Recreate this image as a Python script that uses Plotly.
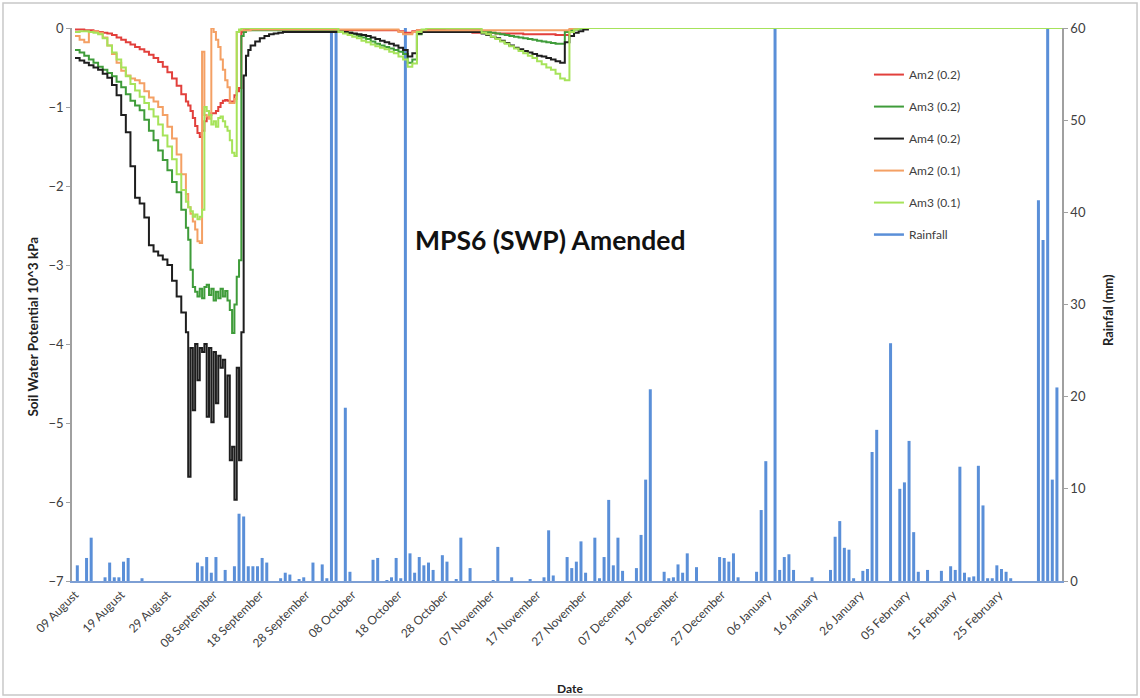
import pandas as pd
import plotly.graph_objects as go

# ---------------- time bases ----------------
START = "2012-08-09"
days_a = pd.date_range(START, periods=24, freq="D")            # 09 Aug .. 01 Sep (daily)
half_b = pd.date_range("2012-09-02", periods=28, freq="12h")   # 02 Sep .. 15 Sep (12-hourly)
days_c = pd.date_range("2012-09-16", periods=83, freq="D")     # 16 Sep .. 07 Dec (daily)
t_end = pd.DatetimeIndex(["2013-03-11"])
t_swp = days_a.append(half_b).append(days_c).append(t_end)

t_rain = pd.date_range(START + " 12:00", periods=215, freq="D")   # daily totals, centred on each day

tick_dates = pd.date_range(START, periods=21, freq="10D")
tick_labels = [d.strftime("%d %B") for d in tick_dates]

# ---------------- soil water potential (10^3 kPa) ----------------
am2_02 = [
    -0.02, -0.02, -0.03, -0.03, -0.04, -0.05, -0.06, -0.07, -0.09, -0.12, -0.15, -0.18,
    -0.21, -0.24, -0.27, -0.30, -0.34, -0.38, -0.43, -0.49, -0.56, -0.64, -0.73, -0.84,
    -0.93, -0.98, -1.05, -1.14, -1.24, -1.33, -1.38, -1.30, -1.18, -1.13, -1.10, -1.08,
    -1.08, -1.05, -1.00, -0.95, -0.92, -0.91, -0.92, -0.95, -0.93, -0.85, -0.80, -0.76,
    -0.05, -0.03, -0.02, -0.02,
    -0.02, -0.02, -0.02, -0.02, -0.02, -0.02, -0.02, -0.02, -0.02, -0.02, -0.02, -0.02,
    -0.02, -0.02, -0.02, -0.02, -0.02, -0.02,
    -0.03, -0.03, -0.03, -0.03, -0.03, -0.03, -0.03, -0.03, -0.03, -0.03, -0.03, -0.03,
    -0.03, -0.03,
    -0.04, -0.06, -0.06, -0.04,
    -0.03, -0.03, -0.03, -0.03, -0.03, -0.03,
    -0.04, -0.04, -0.05, -0.05, -0.05, -0.05, -0.06, -0.06, -0.06, -0.06, -0.06, -0.07,
    -0.07, -0.07, -0.07, -0.07, -0.07, -0.08, -0.08, -0.08, -0.08, -0.08, -0.08, -0.08,
    -0.09, -0.09, -0.09,
    -0.03, -0.01, 0, 0, 0, 0, 0, 0, 0, 0, 0, 0, 0, 0,
    0,
]

am3_02 = [
    -0.28, -0.31, -0.35, -0.40, -0.44, -0.49, -0.53, -0.57, -0.61, -0.68, -0.75, -0.84,
    -0.92, -0.98, -1.04, -1.16, -1.30, -1.42, -1.55, -1.67, -1.80, -1.95, -2.08, -2.30,
    -2.53, -2.68, -3.06, -3.28, -3.34, -3.40, -3.30, -3.42, -3.28, -3.25, -3.38, -3.30,
    -3.45, -3.34, -3.42, -3.30, -3.40, -3.33, -3.45, -3.57, -3.86, -3.50, -3.15, -2.94,
    -0.10, -0.05, -0.03, -0.03,
    -0.03, -0.03, -0.03, -0.03, -0.03, -0.03, -0.03, -0.03, -0.03, -0.03, -0.03, -0.03,
    -0.03, -0.03, -0.03, -0.03, -0.03, -0.03, -0.03,
    -0.04, -0.05, -0.06, -0.08, -0.10, -0.12, -0.14, -0.17, -0.20, -0.22, -0.24, -0.26,
    -0.28, -0.30, -0.33, -0.44, -0.40, -0.08, -0.04,
    -0.03, -0.03, -0.03, -0.03, -0.03, -0.03, -0.03, -0.03, -0.03, -0.03, -0.03, -0.03,
    -0.04, -0.05, -0.06, -0.07, -0.08, -0.09, -0.10, -0.11, -0.12, -0.13, -0.14, -0.15,
    -0.16, -0.17, -0.18, -0.19, -0.20, -0.20, -0.05, -0.03,
    -0.02, -0.01, 0, 0, 0, 0, 0, 0, 0, 0, 0, 0, 0,
    0,
]

am4_02 = [
    -0.38, -0.41, -0.44, -0.47, -0.50, -0.53, -0.58, -0.63, -0.72, -0.85, -1.10, -1.32,
    -1.75, -2.15, -2.22, -2.40, -2.75, -2.83, -2.88, -2.93, -3.00, -3.20, -3.40, -3.60,
    -3.85, -5.68, -4.05, -4.84, -4.00, -4.46, -4.05, -4.10, -4.00, -4.92, -4.05, -4.99,
    -4.10, -4.75, -4.15, -4.30, -4.20, -4.92, -4.40, -5.47, -5.30, -5.97, -4.30, -5.47,
    -3.85, -0.60, -0.35, -0.28,
    -0.22, -0.17, -0.13, -0.10, -0.08, -0.07, -0.06,
    -0.05, -0.05, -0.05, -0.05, -0.05, -0.05, -0.05, -0.05, -0.05, -0.05, -0.05, -0.05,
    -0.05, -0.05, -0.06, -0.07, -0.08, -0.09, -0.10, -0.12, -0.14, -0.16, -0.18, -0.20,
    -0.22, -0.25, -0.28, -0.36, -0.32, -0.07, -0.05,
    -0.05, -0.05, -0.05, -0.05, -0.05, -0.05, -0.05, -0.05, -0.05, -0.05, -0.05, -0.05,
    -0.07, -0.09, -0.11, -0.13, -0.16, -0.19, -0.22, -0.25, -0.27, -0.29, -0.31, -0.33,
    -0.35, -0.36, -0.38, -0.40, -0.42, -0.44, -0.18, -0.10, -0.06, -0.04, -0.02,
    0, 0, 0, 0, 0, 0, 0, 0, 0, 0,
    0,
]

am2_01 = [
    -0.10, -0.15, -0.18, -0.05, -0.04, -0.06, -0.12, -0.22, -0.33, -0.44, -0.54, -0.60,
    -0.64, -0.66, -0.70, -0.80, -0.88, -0.93, -1.00, -1.10, -1.25, -1.40, -1.60, -1.85,
    -2.10, -2.27, -2.35, -2.45, -2.55, -2.70, -2.72, -0.30, -1.10, -1.12, -1.15, 0.00,
    -0.05, -0.15, -0.24, -0.40, -0.53, -0.66, -0.75, -0.95, -0.95, -0.90, -0.05, -0.03,
    -0.03, -0.03, -0.03, -0.03,
    -0.02, -0.02, -0.02, -0.02, -0.02, -0.02, -0.02, -0.02, -0.02, -0.02, -0.02, -0.02,
    -0.02, -0.02, -0.02, -0.02, -0.02, -0.02, -0.02, -0.02, -0.02, -0.02, -0.02, -0.02,
    -0.02, -0.02, -0.02, -0.02, -0.02, -0.02, -0.02, -0.02,
    -0.05, -0.08, -0.08, -0.05,
    -0.03, -0.03, -0.03, -0.03, -0.03, -0.03, -0.03, -0.03, -0.03, -0.03, -0.03, -0.03,
    -0.03, -0.03, -0.03, -0.03, -0.03, -0.03, -0.03, -0.03, -0.03, -0.03, -0.03, -0.03,
    -0.03, -0.03, -0.03, -0.03, -0.03, -0.03, -0.03, -0.03, -0.03,
    -0.01, 0, 0, 0, 0, 0, 0, 0, 0, 0, 0, 0, 0, 0,
    0,
]

am3_01 = [
    -0.05, -0.04, -0.04, -0.05, -0.06, -0.08, -0.13, -0.22, -0.31, -0.40, -0.50, -0.61,
    -0.71, -0.79, -0.87, -0.95, -1.03, -1.12, -1.22, -1.36, -1.50, -1.66, -1.85, -2.05,
    -2.20, -2.27, -2.32, -2.39, -2.36, -2.42, -2.39, -2.30, -1.00, -1.05, -1.10, -1.22,
    -1.18, -1.25, -1.14, -1.12, -1.18, -1.25, -1.30, -1.42, -1.58, -1.62, -0.05, -0.02,
    0, 0, 0, 0,
    0, 0, 0, 0, 0, 0, 0, 0, 0, 0, 0, 0, 0, 0, 0, 0, 0, 0, 0,
    -0.05, -0.07, -0.09, -0.11, -0.13, -0.16, -0.18, -0.21, -0.23, -0.25, -0.27, -0.30,
    -0.32, -0.36, -0.40, -0.49, -0.45, -0.05, -0.02,
    0, 0, 0, 0, 0, 0, 0, 0, 0, 0, 0, 0,
    -0.06, -0.08, -0.11, -0.14, -0.17, -0.20, -0.23, -0.26, -0.29, -0.32, -0.35, -0.38,
    -0.42, -0.46, -0.50, -0.53, -0.58, -0.64, -0.66, -0.05,
    -0.02, 0, 0, 0, 0, 0, 0, 0, 0, 0, 0, 0, 0,
    0,
]

# ---------------- daily rainfall (mm), 09 Aug .. 11 Mar ----------------
rainfall = [
    1.7, 0, 2.5, 4.7, 0, 0, 0.4, 2.0, 0.4, 0.4, 2.1, 2.5, 0, 0, 0.3,          # 0-14
    0, 0, 0, 0, 0, 0, 0, 0, 0, 0, 0,                                          # 15-25
    2.0, 1.6, 2.6, 0.9, 2.6, 0, 1.2, 0, 1.6, 7.3, 7.0, 1.6,                    # 26-37
    1.6, 1.6, 2.5, 2.0, 0, 0, 0.3, 0.9, 0.7, 0, 0.2, 0.4, 0, 2.0, 0, 1.8,      # 38-53
    0.3, 60, 60, 0, 18.8, 1.0, 0, 0, 0, 0, 2.3, 2.5, 0, 0.1, 0.4, 2.5,         # 54-69
    0.3, 60, 3.0, 0.9, 2.6, 1.7, 2.0, 1.2, 0, 2.8, 2.1, 0, 0.2, 4.7, 0, 1.4,   # 70-85
    0, 0, 0, 0, 0.1, 3.7, 0, 0, 0.4, 0, 0, 0, 0.2, 0, 0, 0.4,                  # 86-101
    5.5, 0.6, 0, 0, 2.6, 1.4, 2.1, 4.3, 0.9, 0, 4.7, 0.3, 2.6, 8.8, 1.7, 4.7,  # 102-117
    1.1, 0, 0, 1.4, 5.0, 11.0, 20.8, 0, 0, 1.0, 0.3, 0.4, 1.8, 0.9, 3.0, 0,    # 118-133
    1.5, 0, 0, 0, 0, 2.6, 2.5, 2.1, 3.0, 0.4, 0, 0, 0, 1.0, 7.7, 13.0,         # 134-149
    0, 60, 1.2, 2.6, 2.9, 1.2, 0, 0, 0, 0.4, 0, 0, 0, 1.2, 4.8, 6.5,           # 150-165
    3.6, 3.4, 0.3, 0, 1.1, 1.3, 14.0, 16.4, 0, 0, 25.8, 0, 10.0, 10.7, 15.2,   # 166-180
    5.3, 1.0, 0, 1.2, 0, 0, 1.1, 0, 1.6, 1.2, 12.4, 0.9, 0.4, 0.5, 12.5,       # 181-195
    8.2, 0.3, 0.3, 1.7, 1.3, 1.0, 0.3, 0, 0, 0, 0, 0,                          # 196-207
    41.3, 37.0, 60, 11.0, 21.0, 0, 0,                                          # 208-214
]

series = [
    ("Am2 (0.2)", am2_02, "#e2403c"),
    ("Am3 (0.2)", am3_02, "#3f9c3a"),
    ("Am4 (0.2)", am4_02, "#1e1e1e"),
    ("Am2 (0.1)", am2_01, "#f4a064"),
    ("Am3 (0.1)", am3_01, "#a6e35a"),
]
RAIN_COLOR = "#5a8fd8"

FONT = "Lato, 'Open Sans', sans-serif"
fig = go.Figure()
for i, (name, vals, col) in enumerate(series):
    fig.add_trace(go.Scatter(
        x=t_swp, y=vals, name=name, mode="lines", yaxis="y2",
        line=dict(color=col, width=2, shape="hv"), legendgroup=f"g{i}",
    ))
# rainfall spikes (one narrow column per day)
fig.add_trace(go.Bar(
    x=t_rain, y=rainfall, name="Rainfall", yaxis="y", width=0.65 * 86400000,
    marker=dict(color=RAIN_COLOR, line=dict(width=0)), showlegend=False,
    legendgroup="g9",
))
# legend entry drawn as a line, like the original
fig.add_trace(go.Scatter(
    x=[None], y=[None], name="Rainfall", mode="lines", yaxis="y",
    line=dict(color=RAIN_COLOR, width=2.5), legendgroup="g9",
))

axis_line = "#a0a0a0"
fig.update_layout(
    width=1140, height=698,
    margin=dict(l=72, r=78, t=28, b=117),
    paper_bgcolor="white", plot_bgcolor="white",
    font=dict(family=FONT, size=12, color="#404040"),
    showlegend=True,
    legend=dict(x=0.805, y=0.942, xanchor="left", yanchor="top",
                bgcolor="rgba(0,0,0,0)", font=dict(size=12, color="#404040"),
                tracegroupgap=13, itemwidth=30),
    xaxis=dict(
        type="date",
        range=["2012-08-08 08:24", "2013-03-10 14:24"],
        tickmode="array", tickvals=tick_dates, ticktext=tick_labels,
        tickangle=-45, showgrid=False, zeroline=False,
        showline=True, linecolor="#7d9fd4", linewidth=2,
        ticks="", tickfont=dict(size=12, color="#404040"),
    ),
    yaxis=dict(
        side="right", range=[0, 60], dtick=10, showgrid=False, zeroline=False,
        showline=True, linecolor=axis_line, linewidth=1.5,
        ticks="outside", ticklen=4, tickcolor=axis_line,
        tickfont=dict(size=13, color="#404040"),
    ),
    yaxis2=dict(
        overlaying="y", side="left", range=[-7, 0], dtick=1,
        showgrid=False, zeroline=False,
        showline=True, linecolor=axis_line, linewidth=1.5,
        ticks="outside", ticklen=4, tickcolor=axis_line,
        tickfont=dict(size=13, color="#404040"),
    ),
    annotations=[
        dict(text="<b>MPS6 (SWP) Amended</b>", xref="paper", yref="paper",
             x=0.483, y=0.617, xanchor="center", yanchor="middle", showarrow=False,
             font=dict(size=26.5, color="#111111")),
        dict(text="<b>Soil Water Potential 10^3 kPa</b>", xref="paper", yref="paper",
             x=-0.0394, y=0.46, xanchor="center", yanchor="middle", textangle=-90,
             showarrow=False, font=dict(size=13.5, color="#222222")),
        dict(text="<b>Rainfal (mm)</b>", xref="paper", yref="paper",
             x=1.0465, y=0.49, xanchor="center", yanchor="middle", textangle=-90,
             showarrow=False, font=dict(size=13, color="#222222")),
        dict(text="<b>Date</b>", xref="paper", yref="paper",
             x=0.503, y=-0.1935, xanchor="center", yanchor="middle", showarrow=False,
             font=dict(size=12, color="#222222")),
    ],
    shapes=[
        dict(type="rect", xref="paper", yref="paper",
             x0=-0.0697, x1=1.0758, y0=-0.206, y1=1.0452,
             line=dict(color="#c8c8c8", width=1.5), layer="below"),
    ],
)

fig.write_html("out.html", config={"displayModeBar": False},
               post_script="document.body.style.margin='0px';")
